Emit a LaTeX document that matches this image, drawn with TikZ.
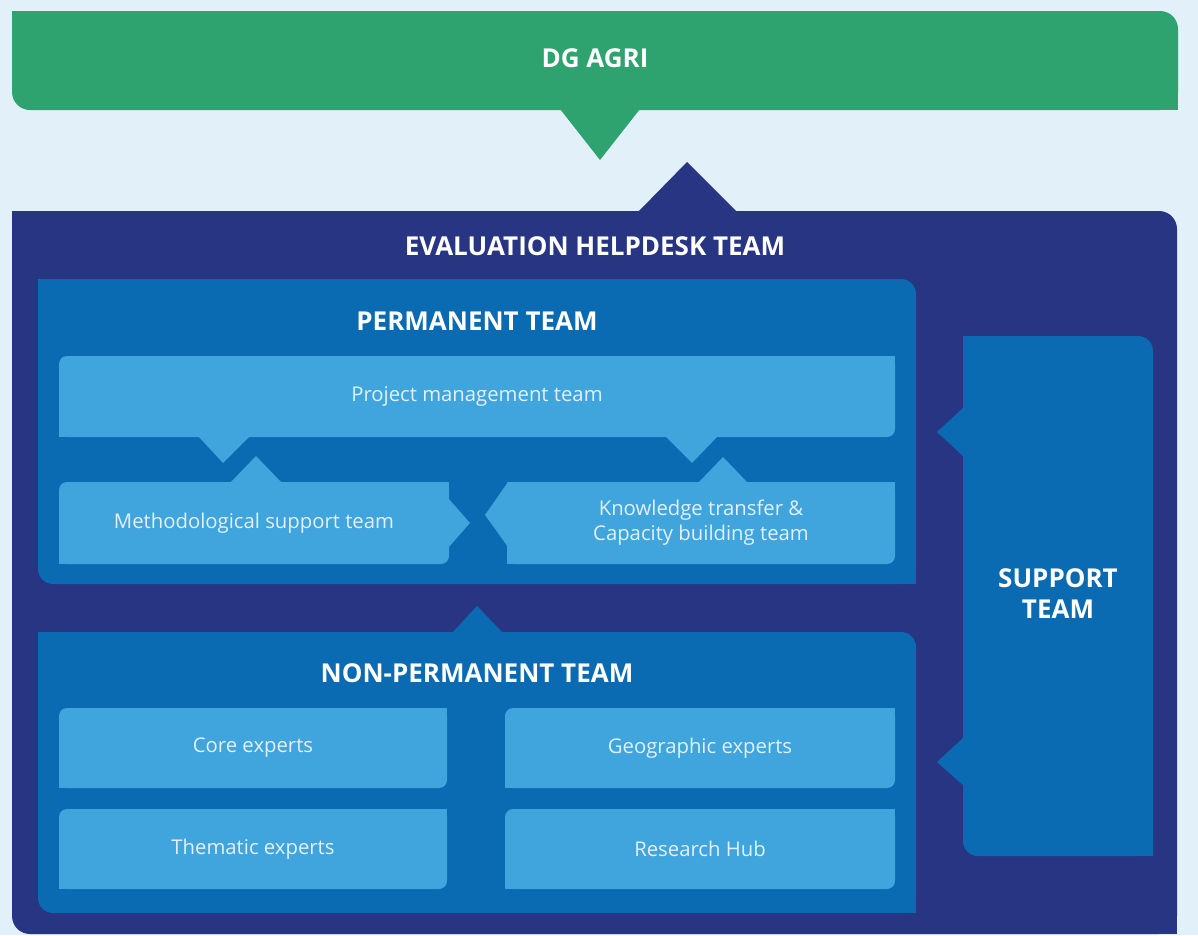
\documentclass[tikz,border=0pt]{standalone}
\usepackage{fontspec}
\setmainfont{Open Sans}
\definecolor{bg}{HTML}{E2F0F9}
\definecolor{agri}{HTML}{2EA36F}
\definecolor{navy}{HTML}{283583}
\definecolor{midblue}{HTML}{0A6AB2}
\definecolor{lightblue}{HTML}{40A4DD}
\definecolor{softtext}{HTML}{E2F1FB}
\tikzset{
  panel/.style={inner sep=0pt, outer sep=0pt},
  bigbox/.style={panel, rounded corners=18pt},
  midbox/.style={panel, fill=midblue, rounded corners=15pt},
  lightbox/.style={panel, fill=lightblue, rounded corners=8pt, text=softtext,
    font=\fontsize{20.3}{25}\selectfont, align=center},
  header/.style={inner sep=0pt, text=white, font=\bfseries\fontsize{26}{31}\selectfont, align=center},
}
\begin{document}
\begin{tikzpicture}[x=1pt, y=-1pt]
\fill[bg] (0,0) rectangle (1198,935);
\useasboundingbox (0,0) rectangle (1198,935);

% DG AGRI bar
\node[bigbox, fill=agri, minimum width=1166pt, minimum height=99pt] (dg) at (595,60.5) {};
\fill[agri] (dg.north west) rectangle ++(20,20);
\fill[agri] (dg.south east) rectangle ++(-20,-20);
\fill[agri] (560,109) -- (600,160) -- (640,109) -- cycle;
\node[header] (dgt) at (595,58) {DG AGRI};

% Evaluation helpdesk team
\node[bigbox, fill=navy, minimum width=1165pt, minimum height=723pt] (eht) at (594.5,572.5) {};
\fill[navy] (eht.north west) rectangle ++(20,20);
\fill[navy] (eht.south east) rectangle ++(-20,-20);
\fill[navy] (638,212) -- (687,162) -- (737,212) -- cycle;
\node[header] (ehtt) at (595,246) {EVALUATION HELPDESK TEAM};

% Permanent team
\node[midbox, minimum width=878pt, minimum height=305pt] (perm) at (477,431.5) {};
\fill[midblue] (perm.north west) rectangle ++(17,17);
\fill[midblue] (perm.south east) rectangle ++(-17,-17);
\node[header] (permt) at (477,321) {PERMANENT TEAM};

% Non-permanent team
\node[midbox, minimum width=878pt, minimum height=281pt] (nperm) at (477,772.5) {};
\fill[midblue] (nperm.north west) rectangle ++(17,17);
\fill[midblue] (nperm.south east) rectangle ++(-17,-17);
\fill[midblue] (452,633) -- (477,606) -- (503,633) -- cycle;
\node[header] (npermt) at (477,673) {NON-PERMANENT TEAM};

% Support team
\node[midbox, minimum width=190pt, minimum height=520pt] (supp) at (1058,596) {};
\fill[midblue] (supp.north west) rectangle ++(20,20);
\fill[midblue] (supp.south east) rectangle ++(-20,-20);
\fill[midblue] (964,407) -- (937,432) -- (964,457) -- cycle;
\fill[midblue] (964,737) -- (937,762) -- (964,786) -- cycle;
\node[header] (suppt) at (1058,594) {SUPPORT\\TEAM};

% Light boxes of the permanent team
\node[lightbox, minimum width=836pt, minimum height=81pt] (pm) at (477,396.5) {Project management team};
\fill[lightblue] (pm.north east) rectangle ++(-10,10);
\fill[lightblue] (pm.south west) rectangle ++(10,-10);
\fill[lightblue] (198,436) -- (223,463) -- (250,436) -- cycle;
\fill[lightblue] (665,436) -- (692,463) -- (718,436) -- cycle;

\node[lightbox, minimum width=390pt, minimum height=82pt] (meth) at (254,523) {Methodological support team};
\fill[lightblue] (meth.north east) rectangle ++(-10,10);
\fill[lightblue] (meth.south west) rectangle ++(10,-10);
\fill[lightblue] (230,483) -- (256,456) -- (282,483) -- cycle;
\fill[lightblue] (448,498) -- (470,523) -- (448,548) -- cycle;

\node[lightbox, minimum width=388pt, minimum height=82pt] (know) at (701,523) {Knowledge transfer \&\\Capacity building team};
\fill[lightblue] (know.north east) rectangle ++(-10,10);
\fill[lightblue] (know.south west) rectangle ++(10,-10);
\fill[lightblue] (know.north west) rectangle ++(10,10);
\fill[lightblue] (698,483) -- (723,457) -- (748,483) -- cycle;
\fill[lightblue] (508,482) -- (485,515) -- (508,547) -- cycle;

% Light boxes of the non-permanent team
\node[lightbox, minimum width=388pt, minimum height=80pt] (core) at (253,748) {Core experts};
\node[lightbox, minimum width=390pt, minimum height=80pt] (geo) at (700,748) {Geographic experts};
\node[lightbox, minimum width=388pt, minimum height=80pt] (them) at (253,849) {Thematic experts};
\node[lightbox, minimum width=390pt, minimum height=80pt] (hub) at (700,849) {Research Hub};
\foreach \b in {core,geo,them,hub}{
  \fill[lightblue] (\b.north east) rectangle ++(-10,10);
  \fill[lightblue] (\b.south west) rectangle ++(10,-10);
}
\end{tikzpicture}
\end{document}
